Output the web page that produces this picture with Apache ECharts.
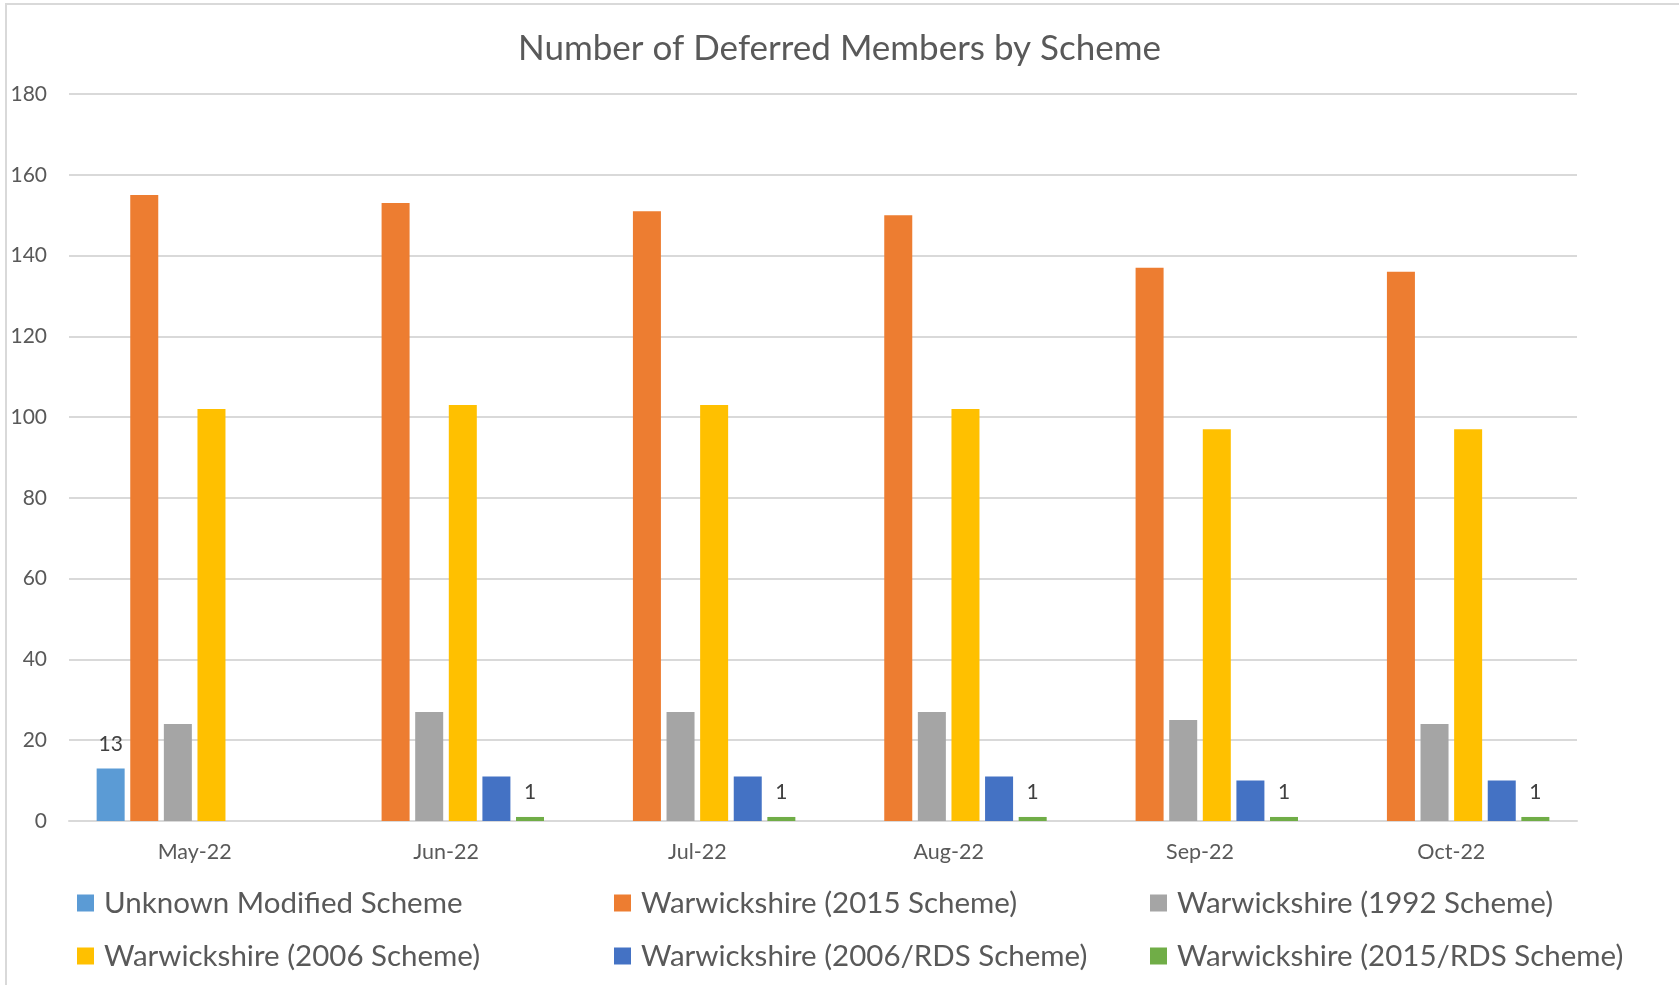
<!DOCTYPE html>
<html>
<head>
<meta charset="utf-8">
<script src="https://cdn.jsdelivr.net/npm/echarts@6/dist/echarts.min.js"></script>
<style>
html,body{margin:0;padding:0;background:#fff;}
#chart{width:1679px;height:985px;}
</style>
</head>
<body>
<div id="chart"></div>
<script>
const categories = ['May-22', 'Jun-22', 'Jul-22', 'Aug-22', 'Sep-22', 'Oct-22'];
const seriesNames = [
  'Unknown Modified Scheme',
  'Warwickshire (2015 Scheme)',
  'Warwickshire (1992 Scheme)',
  'Warwickshire (2006 Scheme)',
  'Warwickshire (2006/RDS Scheme)',
  'Warwickshire (2015/RDS Scheme)'
];
const unknownModified = [13, null, null, null, null, null];
const warwick2015 = [155, 153, 151, 150, 137, 136];
const warwick1992 = [24, 27, 27, 27, 25, 24];
const warwick2006 = [102, 103, 103, 102, 97, 97];
const warwick2006RDS = [null, 11, 11, 11, 10, 10];
const warwick2015RDS = [null, 1, 1, 1, 1, 1];
const yTicks = [0, 20, 40, 60, 80, 100, 120, 140, 160, 180];

const colors = ['#5B9BD5', '#ED7D31', '#A5A5A5', '#FFC000', '#4472C4', '#70AD47'];
const seriesData = [unknownModified, warwick2015, warwick1992, warwick2006, warwick2006RDS, warwick2015RDS];
const labelled = [true, false, false, false, false, true];
const FONT = 'Lato';

const chart = echarts.init(document.getElementById('chart'), null, {renderer: 'canvas'});

const legendPos = [
  {left: 77, top: 886}, {left: 614, top: 886}, {left: 1150, top: 886},
  {left: 77, top: 939}, {left: 614, top: 939}, {left: 1150, top: 939}
];

const option = {
  backgroundColor: '#ffffff',
  animation: false,
  color: colors,
  title: {
    text: 'Number of Deferred Members by Scheme',
    left: 'center',
    top: 26,
    textStyle: {fontFamily: FONT, fontSize: 35, fontWeight: 'normal', color: '#595959'}
  },
  graphic: [{
    type: 'rect',
    shape: {x: 6, y: 4, width: 1700, height: 1000},
    style: {fill: 'none', stroke: '#d9d9d9', lineWidth: 2},
    silent: true
  }],
  legend: legendPos.map((p, i) => ({
    data: [seriesNames[i]],
    left: p.left,
    top: p.top,
    padding: 0,
    itemWidth: 17,
    itemHeight: 17,
    itemGap: 10,
    icon: 'rect',
    selectedMode: false,
    textStyle: {fontFamily: FONT, fontSize: 29.5, color: '#595959', padding: [0, 0, 0, 5], lineHeight: 34}
  })),
  grid: {left: 69, right: 102, top: 94, bottom: 164, containLabel: false},
  xAxis: {
    type: 'category',
    data: categories,
    axisLine: {show: true, lineStyle: {color: '#d9d9d9', width: 2}},
    axisTick: {show: false},
    axisLabel: {fontFamily: FONT, fontSize: 21.5, color: '#595959', margin: 20}
  },
  yAxis: {
    type: 'value',
    min: yTicks[0],
    max: yTicks[yTicks.length - 1],
    interval: yTicks[1] - yTicks[0],
    axisLine: {show: false},
    axisTick: {show: false},
    splitLine: {lineStyle: {color: '#d9d9d9', width: 2}},
    axisLabel: {fontFamily: FONT, fontSize: 21, color: '#595959', margin: 22}
  },
  series: seriesNames.map((name, i) => ({
    name: name,
    type: 'bar',
    data: seriesData[i],
    barGap: '20%',
    barCategoryGap: '22%',
    itemStyle: {color: colors[i]},
    label: {
      show: labelled[i],
      position: 'top',
      distance: 14,
      fontFamily: FONT,
      fontSize: 21,
      color: '#404040'
    }
  }))
};
chart.setOption(option);
</script>
</body>
</html>
